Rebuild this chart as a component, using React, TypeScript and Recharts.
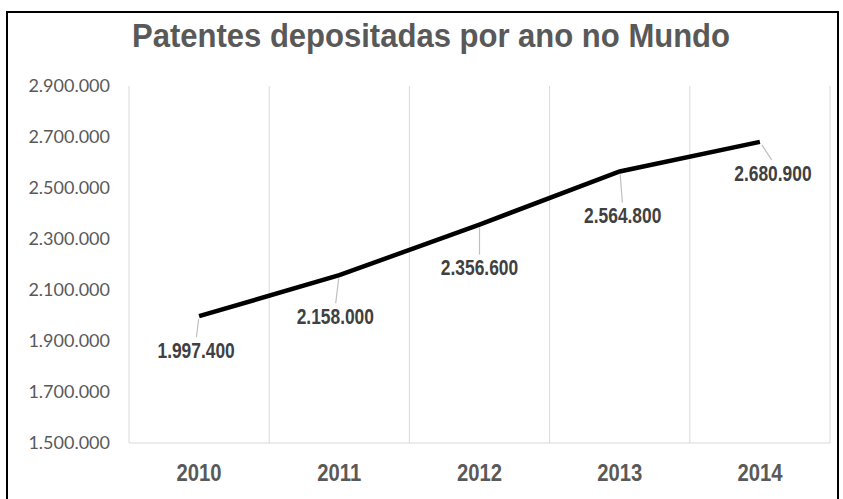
import React from "react";
import { LineChart, Line, XAxis, YAxis, ReferenceLine, LabelList } from "recharts";

const years = ["2010", "2011", "2012", "2013", "2014"];
const patents = [1997400, 2158000, 2356600, 2564800, 2680900];
const yTicks = [1500000, 1700000, 1900000, 2100000, 2300000, 2500000, 2700000, 2900000];

// label offset from each point (dx, dy), Excel placed them by hand
const labelShift = [
  [-3, 34],
  [-4, 41],
  [0, 43],
  [3, 44],
  [13, 31],
];

const data = years.map((y, i) => ({ idx: i, year: y, value: patents[i] }));

const fmt = (v: number) => v.toLocaleString("de-DE");

// no narrow font installed, so squeeze Liberation Sans bold instead
const boldFont = "'Liberation Sans', Arial, sans-serif";

const ValueLabel = (props: any) => {
  const { x, y, value, index } = props;
  const [dx, dy] = labelShift[index] || [0, 38];
  const lx = x + dx;
  const ly = y + dy;
  return (
    <g>
      <line x1={x + dx * 0.15} y1={y + 3} x2={x + dx * 0.9} y2={ly - 13} stroke="#bfbfbf" strokeWidth={1.2} />
      <text
        transform={`translate(${lx},${ly}) scale(0.79,1)`}
        textAnchor="middle"
        dominantBaseline="central"
        fill="#404040"
        fontFamily={boldFont}
        fontWeight={700}
        fontSize={22}
      >
        {fmt(value)}
      </text>
    </g>
  );
};

const YearTick = (props: any) => {
  const { x, y, payload } = props;
  return (
    <text
      transform={`translate(${x},${y}) scale(0.88,1)`}
      textAnchor="middle"
      dominantBaseline="central"
      fill="#595959"
      fontFamily={boldFont}
      fontWeight={700}
      fontSize={23}
    >
      {years[payload.value]}
    </text>
  );
};

const App: React.FC = () => {
  return (
    <div style={{ position: "absolute", left: 0, top: 0, width: 843, height: 499, background: "#fff", overflow: "hidden" }}>
      <div style={{ position: "absolute", left: 6, top: 11, width: 829, height: 500, border: "2px solid #000" }} />
      <div
        style={{
          position: "absolute",
          left: 0,
          top: 16,
          width: 862,
          textAlign: "center",
          fontFamily: boldFont,
          fontWeight: 700,
          fontSize: 33,
          color: "#595959",
          lineHeight: "40px",
          transform: "scaleX(0.94)",
        }}
      >
        Patentes depositadas por ano no Mundo
      </div>
      <div style={{ position: "absolute", left: 0, top: 0 }}>
        <LineChart width={843} height={499} data={data} margin={{ top: 86, right: 13, bottom: 0, left: 0 }}>
          {years.map((_, i) => (
            <ReferenceLine key={i} x={i - 0.5} stroke="#d9d9d9" strokeWidth={1} ifOverflow="visible" />
          ))}
          <ReferenceLine x={years.length - 0.5} stroke="#d9d9d9" strokeWidth={1} ifOverflow="visible" />
          <XAxis
            dataKey="idx"
            type="number"
            domain={[-0.5, years.length - 0.5]}
            ticks={years.map((_, i) => i)}
            height={56}
            axisLine={{ stroke: "#d9d9d9", strokeWidth: 1 }}
            tickLine={false}
            tickMargin={24}
            tick={<YearTick />}
          />
          <YAxis
            domain={[1500000, 2900000]}
            ticks={yTicks}
            tickFormatter={fmt}
            axisLine={false}
            tickLine={false}
            width={129}
            tickMargin={13}
            interval={0}
            tick={{ fill: "#595959", fontFamily: "Lato, 'Open Sans', sans-serif", fontSize: 18 }}
          />
          <Line
            type="linear"
            dataKey="value"
            stroke="#000"
            strokeWidth={4.5}
            dot={false}
            activeDot={false}
            isAnimationActive={false}
          >
            <LabelList dataKey="value" content={<ValueLabel />} />
          </Line>
        </LineChart>
      </div>
    </div>
  );
};

export default App;
